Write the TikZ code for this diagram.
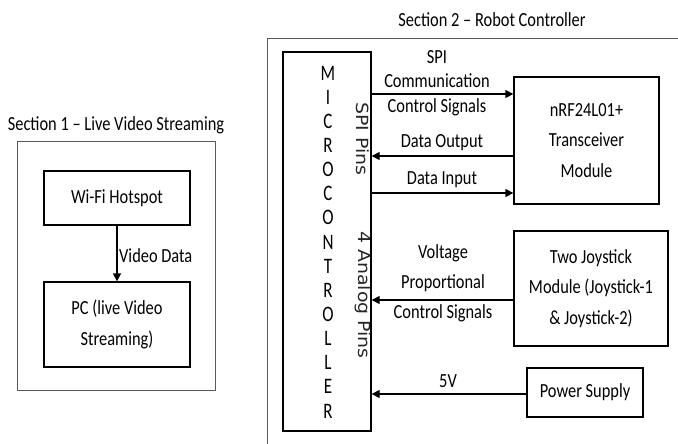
\documentclass[tikz,border=0pt]{standalone}
\usepackage{fontspec}
\setmainfont{Carlito}
\newfontfamily\rotfont{DejaVu Sans}
\usetikzlibrary{arrows.meta}
\newcommand\st[1]{\scalebox{1}[1.22]{#1}}
\newcommand\stt[1]{\scalebox{1}[1.3]{#1}}
\newcommand\rs[1]{\scalebox{1.04}[0.92]{#1}}
\begin{document}
\begin{tikzpicture}[x=1pt,y=-1pt,
  txt/.style={font=\fontsize{16.4}{30}\selectfont, inner sep=0pt, align=center, text=black},
  blk/.style={draw=black, line width=1.3pt, rectangle, inner sep=0pt, align=center,
    font=\fontsize{16.4}{30.5}\selectfont, text=black},
  rot/.style={font=\rotfont\fontsize{18.2}{20}\selectfont, inner sep=0pt, rotate=-90, text=black!85},
  sec/.style={draw=black!65, line width=0.9pt},
  arr/.style={line width=1.3pt, -{Triangle[length=8pt,width=8pt]}}]
\useasboundingbox (0,0) rectangle (678,444);

% Section 1
\node[txt] (t1) at (116,125) {\st{Section 1 -- Live Video Streaming}};
\node[sec, minimum width=198pt, minimum height=249pt] (s1) at (116,265.5) {};
\node[blk, minimum width=146pt, minimum height=54pt] (wifi) at (117,198) {\st{Wi-Fi Hotspot}};
\node[blk, minimum width=146pt, minimum height=85pt] (pc) at (117,324.5) {\st{PC (live Video}\\\st{Streaming)}};
\draw[arr] (wifi.south) -- (pc.north);
\node[txt, anchor=west] (vd) at (119,256) {\st{Video Data}};

% Section 2
\node[txt] (t2) at (492,20) {\st{Section 2 -- Robot Controller}};
\begin{scope}
\clip (0,0) rectangle (678,444);
\node[sec, minimum width=440pt, minimum height=440pt, anchor=north west] (s2) at (267,38) {};
\end{scope}

\node[blk, minimum width=88pt, minimum height=379pt] (mcu) at (327,241.5) {};
\foreach \l [count=\i from 0] in {M,I,C,R,O,C,O,N,T,R,O,L,L,E,R}
  \node[txt, font=\fontsize{17}{20}\selectfont] (L\i) at (328,{73+24.14*\i}) {\stt{\l}};
\node[rot] (spip) at (363,139) {\rs{SPI Pins}};
\node[rot] (anp) at (363,295) {\rs{4 Analog Pins}};

\node[blk, minimum width=145pt, minimum height=127pt] (nrf) at (586.5,140.5) {\st{nRF24L01+}\\\st{Transceiver}\\\st{Module}};
\node[blk, minimum width=154pt, minimum height=115pt] (joy) at (591,288.5) {\st{Two Joystick}\\\st{Module (Joystick-1}\\\st{\& Joystick-2)}};
\node[blk, minimum width=116pt, minimum height=49pt] (ps) at (585,392.5) {\st{Power Supply}};

\coordinate (y1) at (0,94);
\coordinate (y2) at (0,156);
\coordinate (y3) at (0,193);
\coordinate (y4) at (0,300);
\coordinate (y5) at (0,394);

\draw[arr] (mcu.east |- y1) -- (nrf.west |- y1);
\draw[arr] (nrf.west |- y2) -- (mcu.east |- y2);
\draw[arr] (mcu.east |- y3) -- (nrf.west |- y3);
\draw[arr] (joy.west |- y4) -- (mcu.east |- y4);
\draw[arr] (ps.west |- y5) -- (mcu.east |- y5);

\node[txt, font=\fontsize{16.4}{24.5}\selectfont] (spil) at (437,83) {\st{SPI}\\\st{Communication}\\\st{Control Signals}};
\node[txt] (dout) at (442,143) {\st{Data Output}};
\node[txt] (din) at (442,180) {\st{Data Input}};
\node[txt] (vpc) at (443,283) {\st{Voltage}\\\st{Proportional}\\\st{Control Signals}};
\node[txt] (v5) at (448,381) {\st{5V}};
\end{tikzpicture}
\end{document}
